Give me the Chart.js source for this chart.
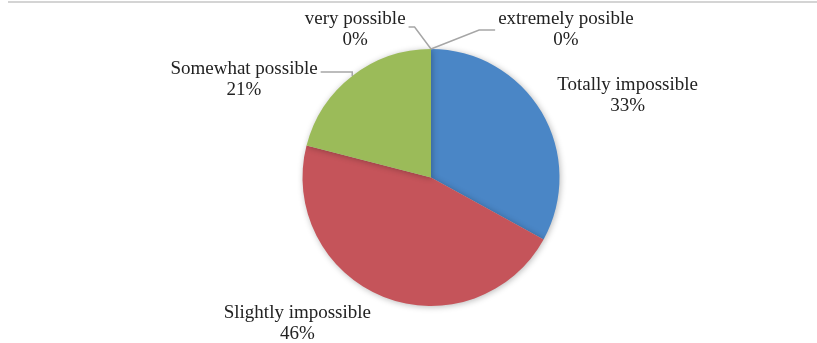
<!DOCTYPE html>
<html>
<head>
<meta charset="utf-8">
<script src="https://cdn.jsdelivr.net/npm/chart.js@4"></script>
<style>
    html, body { margin: 0; padding: 0; background: #fff; }
    .wrap { position: relative; width: 817px; height: 343px; }
    .top-rule { position: absolute; left: 8px; right: 0; top: 1px; height: 2px; background: #d4d4d4; }
    canvas { position: absolute; left: 0; top: 0; }
</style>
</head>
<body>
<div class="wrap">
    <div class="top-rule"></div>
    <canvas id="pieChart" width="817" height="343"></canvas>
</div>
<script>
const categories = ['Totally impossible', 'Slightly impossible', 'Somewhat possible', 'very possible', 'extremely posible'];
const shares = [33, 46, 21, 0, 0];
const sliceColors = ['#4a86c6', '#c5545a', '#9bbb59', '#8064a2', '#4bacc6'];

// label placement relative to the pie centre, in units of radius (Excel "best fit" look)
const labelSpots = [
    { dx: 1.53, dy: -0.72, leader: false },
    { dx: -1.04, dy: 1.054, leader: false },
    { dx: -1.455, dy: -0.845, leader: true, elbow: 'right', lineDy: 3 },
    { dx: -0.59, dy: -1.233, leader: true, elbow: 'right', lineDy: 8 },
    { dx: 1.05, dy: -1.233, leader: true, elbow: 'left', lineDy: 11 }
];

const shadowPlugin = {
    id: 'pieShadow',
    beforeDatasetDraw(chart) {
        const ctx = chart.ctx;
        ctx.save();
        ctx.shadowColor = 'rgba(0,0,0,0.28)';
        ctx.shadowBlur = 6;
        ctx.shadowOffsetX = 1;
        ctx.shadowOffsetY = 1;
    },
    afterDatasetDraw(chart) {
        chart.ctx.restore();
    }
};

const outerLabels = {
    id: 'outerLabels',
    afterDraw(chart) {
        const ctx = chart.ctx;
        const arcs = chart.getDatasetMeta(0).data;
        ctx.save();
        ctx.font = '19px "Liberation Serif", "Times New Roman", serif';
        ctx.fillStyle = '#222';
        ctx.textAlign = 'center';
        ctx.textBaseline = 'middle';
        arcs.forEach((arc, i) => {
            const spot = labelSpots[i];
            const r = arc.outerRadius;
            const lx = arc.x + spot.dx * r;
            const ly = arc.y + spot.dy * r;
            const name = categories[i];
            const pct = Math.round(shares[i]) + '%';
            ctx.fillText(name, lx, ly);
            ctx.fillText(pct, lx, ly + 21);

            if (spot.leader) {
                const mid = (arc.startAngle + arc.endAngle) / 2;
                const ex = arc.x + Math.cos(mid) * r;
                const ey = arc.y + Math.sin(mid) * r;
                const half = ctx.measureText(name).width / 2;
                let sx, kx;
                if (spot.elbow === 'right') {
                    sx = lx + half + 3;
                    kx = sx + 6;
                } else {
                    sx = lx - half - 3;
                    kx = sx - 16;
                }
                const sy = ly + spot.lineDy;
                ctx.strokeStyle = '#a6a6a6';
                ctx.lineWidth = 1.5;
                ctx.beginPath();
                ctx.moveTo(sx, sy);
                if (i === 2) {
                    ctx.lineTo(ex, sy);
                } else {
                    ctx.lineTo(kx, sy);
                }
                ctx.lineTo(ex, ey);
                ctx.stroke();
            }
        });
        ctx.restore();
    }
};

new Chart(document.getElementById('pieChart'), {
    type: 'pie',
    data: {
        labels: categories,
        datasets: [{
            data: shares,
            backgroundColor: sliceColors,
            borderWidth: 0
        }]
    },
    options: {
        responsive: false,
        animation: false,
        layout: { padding: { left: 45, right: 0, top: 49, bottom: 37 } },
        plugins: {
            legend: { display: false },
            tooltip: { enabled: false }
        }
    },
    plugins: [shadowPlugin, outerLabels]
});
</script>
</body>
</html>
